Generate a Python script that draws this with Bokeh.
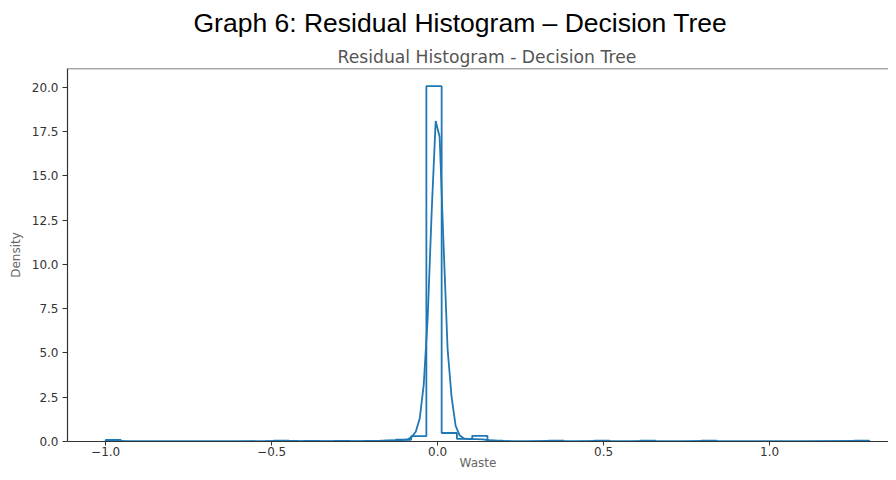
from bokeh.plotting import figure
from bokeh.models import Title, FixedTicker, Range1d, Span
from bokeh.embed import file_html
from bokeh.resources import INLINE

# ---- data ----
bin_start = -1.0
bin_width = 0.046
hist_density = [0.09, 0, 0, 0, 0, 0, 0, 0, 0, 0,
                0, 0.05, 0, 0.04, 0, 0.04, 0, 0, 0.05, 0.10,
                0.30, 20.07, 0.48, 0.15, 0.32, 0.05, 0, 0, 0, 0.05,
                0, 0, 0.05, 0, 0, 0.05, 0, 0, 0, 0.05,
                0, 0, 0, 0, 0, 0, 0, 0, 0, 0.05]

kde_x = [-1.00, -0.97, -0.93, -0.80, -0.60, -0.52, -0.47, -0.42, -0.35, -0.28,
         -0.22, -0.16, -0.12, -0.100, -0.090, -0.078, -0.066, -0.054, -0.042, -0.030,
         -0.018, -0.006, 0.006, 0.018, 0.030, 0.042, 0.054, 0.066, 0.078, 0.095,
         0.115, 0.135, 0.155, 0.18, 0.22, 0.27, 0.33, 0.37, 0.42, 0.49,
         0.52, 0.58, 0.63, 0.66, 0.74, 0.81, 0.84, 0.95, 1.10, 1.26, 1.30]
kde_y = [0.05, 0.04, 0.01, 0.00, 0.00, 0.02, 0.04, 0.03, 0.02, 0.02,
         0.03, 0.05, 0.07, 0.09, 0.12, 0.25, 0.55, 1.30, 3.20, 7.00,
         13.00, 18.10, 17.20, 11.00, 5.20, 2.50, 0.90, 0.35, 0.18, 0.13,
         0.13, 0.12, 0.07, 0.03, 0.02, 0.01, 0.03, 0.01, 0.01, 0.03,
         0.01, 0.00, 0.03, 0.00, 0.00, 0.03, 0.00, 0.00, 0.00, 0.03, 0.02]

y_ticks = [0, 2.5, 5, 7.5, 10, 12.5, 15, 17.5, 20]
x_ticks = [-1.0, -0.5, 0.0, 0.5, 1.0]
x_tick_labels = ["\u22121.0", "\u22120.5", "0.0", "0.5", "1.0"]

outer_title = "Graph 6: Residual Histogram \u2013 Decision Tree"
inner_title = "Residual Histogram - Decision Tree"
x_label = "Waste"
y_label = "Density"

# ---- build step outline from bins ----
sx, sy = [bin_start], [0.0]
for i, h in enumerate(hist_density):
    left = bin_start + i * bin_width
    right = left + bin_width
    sx += [left, right]
    sy += [h, h]
sx.append(bin_start + len(hist_density) * bin_width)
sy.append(0.0)

blue = "#1f77b4"
x_lo, x_hi = -1.115, 1.358
y_lo, y_hi = 0.0, 21.07

p = figure(width=888, height=472, output_backend="svg", toolbar_location=None,
           x_range=Range1d(x_lo, x_hi), y_range=Range1d(y_lo, y_hi),
           min_border_left=67, min_border_right=0, min_border_bottom=0, min_border_top=68)
p.background_fill_color = "white"
p.border_fill_color = "white"
p.outline_line_color = None
p.xgrid.visible = False
p.ygrid.visible = False

p.line(sx, sy, line_color=blue, line_width=1.8)
p.line(kde_x, kde_y, line_color=blue, line_width=1.8)

p.add_layout(Span(location=y_hi, dimension="width", line_color="#555", line_width=1.5))

# axes
for ax in (p.xaxis[0], p.yaxis[0]):
    ax.axis_line_color = "#333333"
    ax.axis_line_width = 1.2
    ax.major_tick_line_color = "#333333"
    ax.major_tick_in = 0
    ax.major_tick_out = 5
    ax.minor_tick_line_color = None
    ax.major_label_text_font = "DejaVu Sans"
    ax.major_label_text_font_size = "12px"
    ax.major_label_text_color = "#333333"
    ax.axis_label_text_font = "DejaVu Sans"
    ax.axis_label_text_font_size = "12px"
    ax.axis_label_text_font_style = "normal"
    ax.axis_label_text_color = "#666666"

p.xaxis.ticker = FixedTicker(ticks=x_ticks)
p.xaxis.major_label_overrides = {t: l for t, l in zip(x_ticks, x_tick_labels)}
p.yaxis.ticker = FixedTicker(ticks=y_ticks)
p.yaxis.major_label_overrides = {t: f"{t:.1f}" for t in y_ticks}
p.xaxis.axis_label = x_label
p.yaxis.axis_label = y_label
p.xaxis.major_tick_out = 4
p.xaxis.major_label_standoff = 1
p.xaxis.axis_label_standoff = -3
p.yaxis.major_label_standoff = 4
p.yaxis.axis_label_standoff = 6

p.title = Title(text=outer_title, align="left", text_font="Liberation Sans",
                text_font_size="26.5px", text_font_style="normal",
                text_color="#000000", offset=126, standoff=10)
p.add_layout(Title(text=inner_title, align="left", text_font="DejaVu Sans",
                   text_font_size="17.2px", text_font_style="normal",
                   text_color="#555555", offset=270, standoff=4), "above")

open("out.html", "w").write(file_html(p, INLINE))
